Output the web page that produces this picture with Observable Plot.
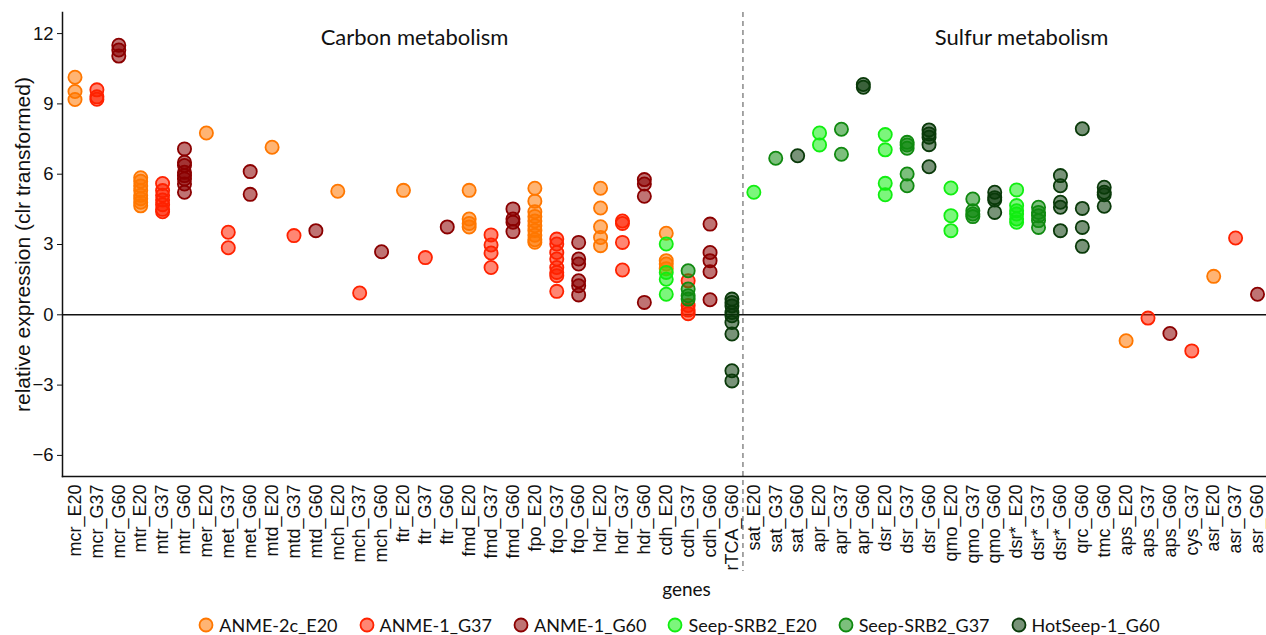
<!DOCTYPE html>
<html><head><meta charset="utf-8">
<script src="https://cdn.jsdelivr.net/npm/d3@7"></script>
<script src="https://cdn.jsdelivr.net/npm/@observablehq/plot@0.6"></script>
<style>
body{margin:0;background:#fff;overflow:hidden}
#legend{display:flex;justify-content:center;align-items:center;gap:21px;width:1266px;box-sizing:border-box;padding-left:92px;margin-top:4px;font-family:Lato,"Open Sans",sans-serif;font-size:18px;color:#111;height:26px}
.item{display:flex;align-items:center;gap:5px}
</style></head><body><div id="chart"></div><div id="legend"></div>
<script>
// x categories (gene_site)
const genes = ["mcr_E20","mcr_G37","mcr_G60","mtr_E20","mtr_G37","mtr_G60","mer_E20","met_G37","met_G60",
  "mtd_E20","mtd_G37","mtd_G60","mch_E20","mch_G37","mch_G60","ftr_E20","ftr_G37","ftr_G60",
  "fmd_E20","fmd_G37","fmd_G60","fpo_E20","fqo_G37","fqo_G60","hdr_E20","hdr_G37","hdr_G60",
  "cdh_E20","cdh_G37","cdh_G60","rTCA_G60",
  "sat_E20","sat_G37","sat_G60","apr_E20","apr_G37","apr_G60","dsr_E20","dsr_G37","dsr_G60",
  "qmo_E20","qmo_G37","qmo_G60","dsr*_E20","dsr*_G37","dsr*_G60","qrc_G60","tmc_G60",
  "aps_E20","aps_G37","aps_G60","cys_G37","asr_E20","asr_G37","asr_G60"];
const groups = ["ANME-2c_E20","ANME-1_G37","ANME-1_G60","Seep-SRB2_E20","Seep-SRB2_G37","HotSeep-1_G60"];
const colors = ["#FF7700","#FF2200","#8B0000","#11EE11","#108A10","#0A3A0A"];
const yTicks = [-6,-3,0,3,6,9,12];
const sectionLabels = ["Carbon metabolism","Sulfur metabolism"];
const yLabel = "relative expression (clr transformed)";
const xLabel = "genes";

// values per group: [gene, values]
const anme2cE20 = [
  ["mcr_E20",[10.14,9.53,9.19]],
  ["mtr_E20",[5.85,5.7,5.5,5.3,5.1,4.95,4.8,4.65]],
  ["mer_E20",[7.76]],["mtd_E20",[7.15]],["mch_E20",[5.27]],["ftr_E20",[5.31]],
  ["fmd_E20",[5.31,4.09,3.9,3.75]],
  ["fpo_E20",[5.4,4.85,4.4,4.2,4.0,3.8,3.6,3.4,3.2,3.1]],
  ["hdr_E20",[5.4,4.56,3.76,3.3,2.95]],
  ["cdh_E20",[3.48,2.31,2.17,1.97]],
  ["aps_E20",[-1.11]],["asr_E20",[1.64]]
];
const anme1G37 = [
  ["mcr_G37",[9.6,9.3,9.2]],
  ["mtr_G37",[5.6,5.3,5.1,4.9,4.7,4.5,4.4]],
  ["met_G37",[3.52,2.86]],["mtd_G37",[3.38]],["mch_G37",[0.93]],["ftr_G37",[2.44]],
  ["fmd_G37",[3.41,2.98,2.64,2.02]],
  ["fqo_G37",[3.23,3.02,2.66,2.38,2.02,1.81,1.67,1.0]],
  ["hdr_G37",[4.0,3.9,3.09,1.91]],
  ["cdh_G37",[1.45,0.4,0.2,0.05]],
  ["aps_G37",[-0.14]],["cys_G37",[-1.54]],["asr_G37",[3.28]]
];
const anme1G60 = [
  ["mcr_G60",[11.5,11.3,11.04]],
  ["mtr_G60",[7.08,6.51,6.37,6.08,5.94,5.8,5.58,5.23]],
  ["met_G60",[6.11,5.14]],["mtd_G60",[3.59]],["mch_G60",[2.69]],["ftr_G60",[3.75]],
  ["fmd_G60",[4.52,4.09,3.95,3.55]],
  ["fqo_G60",[3.09,2.38,2.17,1.45,1.24,0.85]],
  ["hdr_G60",[5.77,5.58,5.06,0.53]],
  ["cdh_G60",[3.87,2.66,2.31,1.84,0.64]],
  ["aps_G60",[-0.8]],["asr_G60",[0.88]]
];
const srb2E20 = [
  ["cdh_E20",[3.02,1.81,1.52,0.88]],
  ["sat_E20",[5.23]],["apr_E20",[7.76,7.25]],
  ["dsr_E20",[7.69,7.04,5.61,5.12]],
  ["qmo_E20",[5.41,4.23,3.59]],
  ["dsr*_E20",[5.33,4.66,4.44,4.3,4.09,3.95]]
];
const srb2G37 = [
  ["cdh_G37",[1.88,1.1,0.81,0.67]],
  ["sat_G37",[6.68]],["apr_G37",[7.92,6.85]],
  ["dsr_G37",[7.36,7.25,7.11,6.01,5.51]],
  ["qmo_G37",[4.94,4.44,4.3,4.19]],
  ["dsr*_G37",[4.59,4.37,4.23,4.02,3.73]]
];
const hotseepG60 = [
  ["rTCA_G60",[0.67,0.53,0.38,0.1,-0.04,-0.33,-0.82,-2.39,-2.82]],
  ["sat_G60",[6.79]],["apr_G60",[9.83,9.71]],
  ["dsr_G60",[7.89,7.72,7.58,7.26,6.32]],
  ["qmo_G60",[5.23,5.0,4.9,4.37]],
  ["dsr*_G60",[5.94,5.51,4.8,4.59,3.59]],
  ["qrc_G60",[7.94,4.54,3.73,2.92]],
  ["tmc_G60",[5.44,5.23,5.12,4.63]]
];
const series = [anme2cE20, anme1G37, anme1G60, srb2E20, srb2G37, hotseepG60];

const points = [];
series.forEach((s, gi) => s.forEach(([gene, vals]) => vals.forEach(v => points.push({gene, value: v, group: groups[gi]}))));

const plot = Plot.plot({
  width: 1266, height: 608,
  marginLeft: 62, marginRight: 0, marginTop: 12, marginBottom: 132,
  style: {fontFamily: "'Liberation Sans', Arial, sans-serif", color: "#111", background: "#fff"},
  x: {type: "point", domain: genes, range: [74.5, 1257], padding: 0},
  y: {domain: [-6.9, 12.9]},
  color: {domain: groups, range: colors},
  marks: [
    Plot.ruleY([0], {stroke: "#111", strokeWidth: 1.6}),
    Plot.ruleX(["rTCA_G60"], {dx: 11, stroke: "#777", strokeDasharray: "5,4", strokeWidth: 1.3, insetBottom: -95}),
    Plot.dot(points, {x: "gene", y: "value", r: 6.6, fill: "group", stroke: "group", fillOpacity: 0.55, strokeWidth: 1.8}),
    Plot.axisY({ticks: yTicks, tickSize: 5, tickPadding: 4, fontSize: 18.5, label: null}),
    Plot.axisX({tickRotate: -90, tickSize: 0, tickPadding: 8, fontSize: 18, label: null}),
    Plot.frame({anchor: "left", strokeWidth: 1.5, stroke: "#111"}),
    Plot.frame({anchor: "bottom", strokeWidth: 1.5, stroke: "#111"}),
    Plot.text([sectionLabels[0]], {x: () => "ftr_E20", y: () => 11.8, text: d => d, dx: 11, fontSize: 22, fontFamily: "Lato"}),
    Plot.text([sectionLabels[1]], {x: () => "dsr*_E20", y: () => 11.8, text: d => d, dx: 5, fontSize: 22, fontFamily: "Lato"}),
    Plot.text([yLabel], {frameAnchor: "left", textAnchor: "middle", text: d => d, rotate: -90, dx: -39, fontSize: 21}),
    Plot.text([xLabel], {frameAnchor: "bottom", text: d => d, dx: 22, dy: 119, fontSize: 19, fontFamily: "Lato"})
  ]
});
document.getElementById("chart").appendChild(plot);

const legend = d3.select("#legend");
groups.forEach((g, i) => {
  const it = legend.append("div").attr("class", "item");
  const s = it.append("svg").attr("width", 16).attr("height", 16);
  s.append("circle").attr("cx", 8).attr("cy", 8).attr("r", 6.5)
    .attr("fill", colors[i]).attr("fill-opacity", 0.55).attr("stroke", colors[i]).attr("stroke-width", 1.8);
  it.append("span").text(g);
});
</script></body></html>
